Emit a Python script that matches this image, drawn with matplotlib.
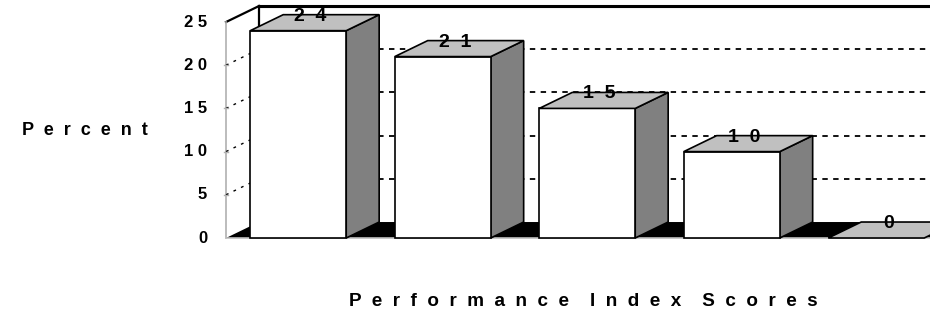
import matplotlib
matplotlib.use('Agg')
import matplotlib.pyplot as plt
from matplotlib.patches import Polygon

# Datos
categorias = ['A', 'B', 'C', 'D', 'E']
valores = [24, 21, 15, 10, 0]
ticks_y = [0, 5, 10, 15, 20, 25]
titulo_y = 'Percent'
titulo_x = 'Performance Index Scores'

plt.rcParams['font.family'] = ['Liberation Sans', 'DejaVu Sans']

def espaciar(s, sep='  '):
    # separa letras como en el grafico original (palabras con mas espacio)
    return (sep * 2).join(sep.join(p) for p in s.split(' '))

# Profundidad 3D (en unidades de datos)
dx = 0.228
dy = 1.85
ancho = 0.664
ymax = 25
n = len(categorias)

fig = plt.figure(figsize=(9.3, 3.18), dpi=100)
ax = fig.add_axes([0, 0, 1, 1])
ax.set_xlim(-1.564, 4.872)
ax.set_ylim(-9.26, 27.55)
ax.axis('off')

# Pared del fondo: lineas de cuadricula
for v in ticks_y[1:-1]:
    ax.plot([dx, n + dx], [v + dy, v + dy], color='black', lw=1.3,
            linestyle=(0, (3, 3)), zorder=1)
# borde superior de la pared del fondo
ax.plot([dx, n + dx], [ymax + dy - 0.15, ymax + dy - 0.15], color='#a0a0a0', lw=1.5, zorder=1)
ax.plot([dx, n + dx], [ymax + dy, ymax + dy], color='black', lw=2.2, zorder=1)

# Pared izquierda
pared = Polygon([(0, 0), (0, ymax), (dx, ymax + dy), (dx, dy)], closed=True,
                facecolor='white', edgecolor='none', zorder=2)
ax.add_patch(pared)
ax.plot([0, dx], [ymax, ymax + dy], color='black', lw=1.6, zorder=2)
ax.plot([dx, dx], [dy, ymax + dy], color='black', lw=1.6, zorder=2)
ax.plot([0, 0], [0, ymax], color='#b0b0b0', lw=1.2, zorder=2)
for v in ticks_y[1:-1]:
    ax.plot([0, dx], [v, v + dy], color='black', lw=1.0,
            linestyle=(0, (2, 4)), zorder=2)
    ax.plot([-0.012, 0.012], [v, v], color='#b0b0b0', lw=1.0, zorder=2)

# Piso
piso = Polygon([(0, 0), (n, 0), (n + dx, dy), (dx, dy)], closed=True,
               facecolor='black', edgecolor='none', zorder=3)
ax.add_patch(piso)
ax.plot([0, n], [0, 0], color='#c0c0c0', lw=1.2, zorder=3)

# Barras
for i, v in enumerate(valores):
    x0 = i + (1 - ancho) / 2
    x1 = x0 + ancho
    if v > 0:
        frente = Polygon([(x0, 0), (x1, 0), (x1, v), (x0, v)], closed=True,
                         facecolor='white', edgecolor='black', lw=1.2, zorder=4)
        lado = Polygon([(x1, 0), (x1 + dx, dy), (x1 + dx, v + dy), (x1, v)], closed=True,
                       facecolor='#808080', edgecolor='black', lw=1.2, zorder=4)
        ax.add_patch(lado)
        ax.add_patch(frente)
    tapa = Polygon([(x0, v), (x1, v), (x1 + dx, v + dy), (x0 + dx, v + dy)], closed=True,
                   facecolor='#c0c0c0', edgecolor='black', lw=1.2, zorder=4)
    ax.add_patch(tapa)
    ax.text((x0 + x1) / 2 + dx / 2 - 0.03, v + dy * 0.5 + 0.75, espaciar(str(v)),
            ha='center', va='center', fontsize=14, fontweight='bold', zorder=6)

# Etiquetas del eje Y
for v in ticks_y:
    ax.text(-0.131, v, espaciar(str(v), ' '), ha='right', va='center',
            fontsize=12, fontweight='bold')

ax.text(-0.975, 12.4, espaciar(titulo_y), ha='center', va='center',
        fontsize=13, fontweight='bold')
ax.text(2.47, -7.4, espaciar(titulo_x), ha='center', va='center',
        fontsize=13.6, fontweight='bold')

plt.savefig('out.png', dpi=100)
